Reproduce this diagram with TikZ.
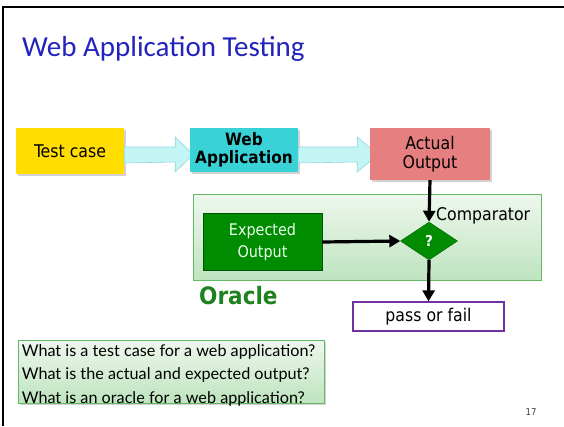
\documentclass[tikz,border=0pt]{standalone}
\usepackage{fontspec}
\setmainfont{DejaVu Sans Condensed}
\newfontfamily\titlefont{Carlito}
\newfontfamily\qfont{Lato}
\usetikzlibrary{shapes.geometric,arrows.meta,calc,shadows}
\definecolor{titleblue}{RGB}{35,35,190}
\definecolor{tcyellow}{RGB}{255,221,0}
\definecolor{wacyan}{RGB}{56,210,215}
\definecolor{aored}{RGB}{230,128,128}
\definecolor{barrow}{RGB}{195,245,245}
\definecolor{barrowedge}{RGB}{150,215,220}
\definecolor{eogreen}{RGB}{0,140,0}
\definecolor{oratop}{RGB}{238,247,238}
\definecolor{orabot}{RGB}{190,228,190}
\definecolor{oraedge}{RGB}{100,185,100}
\definecolor{oracletxt}{RGB}{30,130,30}
\definecolor{pfpurple}{RGB}{112,48,160}
\begin{document}
\begin{tikzpicture}[x=1pt,y=-1pt,
  box/.style={rectangle,inner sep=0pt,align=center,font=\fontsize{17.5}{19}\selectfont},
  shad/.style={drop shadow={opacity=0.35,shadow xshift=2pt,shadow yshift=-2pt}},
  blockarrow/.style={fill=barrow,draw=barrowedge,line width=0.6pt},
  flow/.style={line width=3.2pt,-{Triangle[width=12pt,length=11pt]}},
  greenpanel/.style={rectangle,inner sep=0pt,draw=oraedge,line width=0.8pt,top color=oratop,bottom color=orabot}]
\useasboundingbox (0,0) rectangle (564,426);
\fill[white] (0,0) rectangle (564,426);
% slide frame
\draw[line width=2pt] (2.5,426) -- (2.5,6.5) -- (564,6.5);
% title
\node[anchor=base west,inner sep=0pt,text=titleblue,font=\titlefont\fontsize{29}{31}\selectfont] (title) at (22,56) {Web Application Testing};
% oracle panel
\node[greenpanel,minimum width=348pt,minimum height=86pt] (orc) at (367,237) {};
% nodes
\node[box,shad,fill=tcyellow,minimum width=108pt,minimum height=46pt] (tc) at (70,151) {Test case};
\node[box,shad,fill=aored,minimum width=120pt,minimum height=52pt] (ao) at (430,154) {Actual\\Output};
% block arrows
\draw[blockarrow] ($(tc.east)+(0,-4)$) -- ++(51,0) -- ++(0,-10) -- ++(18,17.5) -- ++(-18,17.5) -- ++(0,-10) -- ($(tc.east)+(0,12)$) -- cycle;
\node[box,shad,fill=wacyan,minimum width=108pt,minimum height=44pt,font=\bfseries\fontsize{17}{17.5}\selectfont] (wa) at (244,150) {Web\\Application};
\draw[blockarrow] ($(wa.east)+(0,-3)$) -- ++(59,0) -- ++(0,-10) -- ++(21,17.5) -- ++(-21,17.5) -- ++(0,-10) -- ($(wa.east)+(0,13)$) -- cycle;
\node[box,fill=aored,minimum width=120pt,minimum height=52pt] at (ao) {Actual\\Output};
% expected output
\node[box,draw=black!40!eogreen,fill=eogreen,text=white!92!green,minimum width=119pt,minimum height=57pt,font=\fontsize{16}{22}\selectfont] (eo) at (262.5,242) {Expected\\Output};
% comparator diamond
\node[diamond,draw=black!30!eogreen,fill=eogreen,text=white,inner sep=0pt,minimum width=57pt,minimum height=38pt,font=\bfseries\fontsize{15}{15}\selectfont] (cmp) at (429,241) {?};
\node[anchor=west,inner sep=0pt,font=\fontsize{17.5}{19}\selectfont] (cmplbl) at (436,216) {Comparator};
% oracle label
\node[anchor=west,inner sep=0pt,text=oracletxt,font=\bfseries\fontsize{24}{25}\selectfont] (olbl) at (199,296) {Oracle};
% pass or fail
\node[box,draw=pfpurple,line width=1.2pt,fill=white,minimum width=151pt,minimum height=29pt] (pf) at (428.5,316.5) {pass or fail};
% connectors
\draw[flow] (ao.south) -- (cmp.north);
\draw[flow] (eo.east) -- (cmp.west);
\draw[flow] (cmp.south) -- (pf.north);
% questions
\node[greenpanel,shad,minimum width=306pt,minimum height=63pt] (q) at (171,371.5) {};
\node[anchor=west,inner sep=0pt,align=left,font=\qfont\fontsize{16.2}{23.5}\selectfont] (qtxt) at ($(q.west)+(4,3.5)$) {What is a test case for a web application?\\What is the actual and expected output?\\What is an oracle for a web application?};
% page number
\node[inner sep=0pt,text=black!75,font=\fontsize{9.5}{10}\selectfont] (pnum) at (531,412) {17};
\end{tikzpicture}
\end{document}
